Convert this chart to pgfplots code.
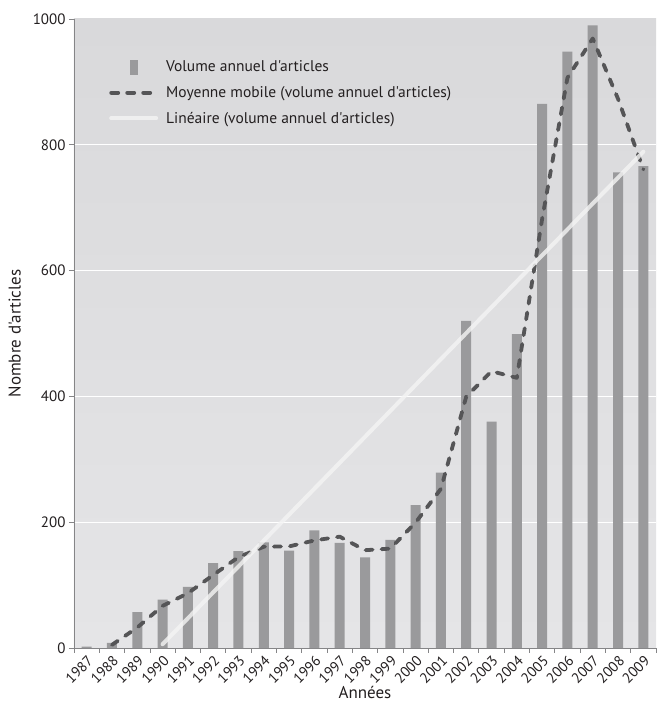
\documentclass[border=0pt]{standalone}
\usepackage{fontspec}
\setmainfont{PT Sans}[Ligatures=TeXOff]
\usepackage{pgfplots}
\pgfplotsset{compat=1.18}
\usetikzlibrary{calc}
\definecolor{barcol}{HTML}{9A9A9C}
\definecolor{dashcol}{HTML}{555557}
\definecolor{axcol}{HTML}{858587}
\definecolor{bgtop}{HTML}{D9D9DB}
\definecolor{bgbot}{HTML}{E5E5E7}
\definecolor{txt}{HTML}{231F20}
\definecolor{trend}{HTML}{F4F4F4}
\pgfplotsset{
  linelegend/.style={legend image code/.code={\draw[##1] (0pt,0pt) -- (45pt,0pt);}},
  barlegend/.style={legend image code/.code={\fill[barcol] (19pt,-7.5pt) rectangle (27pt,7.5pt);}}
}
\begin{document}
\begin{tikzpicture}
\begin{axis}[
  scale only axis, width=582pt, height=629pt,
  xmin=-0.5, xmax=22.5, ymin=0, ymax=1000,
  axis lines=left, axis line style={-, draw=axcol, line width=0.8pt},
  axis background/.style={top color=bgtop, bottom color=bgbot, draw=none},
  font=\fontsize{15}{17}\selectfont, text=txt,
  /pgf/number format/assume math mode=true,
  /pgf/number format/1000 sep={},
  ytick={200,400,...,800}, extra y ticks={0,1000}, extra y tick style={grid=none},
  ymajorgrids, grid style={white, line width=1.2pt},
  xtick={0,...,22},
  xticklabels={1987,1988,1989,1990,1991,1992,1993,1994,1995,1996,1997,1998,1999,2000,2001,2002,2003,2004,2005,2006,2007,2008,2009},
  minor xtick={-0.5,0.5,...,22.5},
  major x tick style={draw=none},
  tick align=outside, major tick length=5pt, minor tick length=5pt,
  tick style={draw=axcol, line width=0.8pt},
  xticklabel style={rotate=45, anchor=north east, inner sep=1pt, font=\fontsize{14.5}{16}\selectfont},
  yticklabel style={font=\fontsize{15}{17}\selectfont},
  xlabel={Années}, ylabel={Nombre d'articles},
  xlabel style={font=\fontsize{17}{19}\selectfont, yshift=3pt},
  ylabel style={font=\fontsize{17}{19}\selectfont},
  legend style={draw=none, fill=none, at={(0.055,0.940)}, anchor=north west,
    font=\fontsize{15.5}{17}\selectfont, row sep=9pt, cells={anchor=west},
    /tikz/every odd column/.append style={column sep=6pt}},
  legend cell align=left,
]
\addplot[ybar, bar width=10pt, fill=barcol, draw=none, barlegend]
  coordinates {(0,2)(1,8)(2,57)(3,77)(4,97)(5,135)(6,154)(7,168)(8,155)(9,187)(10,167)(11,144)(12,172)(13,227)(14,279)(15,520)(16,360)(17,499)(18,865)(19,948)(20,990)(21,756)(22,766)};
\addlegendentry{Volume annuel d'articles}
\addplot[dashcol, line width=3.8pt, line cap=round, line join=round, dash pattern=on 7pt off 9pt, linelegend]
  coordinates {(1,5)(2,32.5)(3,67)(4,87)(5,116)(6,144.5)(7,161)(8,161.5)(9,171)(10,177)(11,155.5)(12,158)(13,199.5)(14,253)(15,399.5)(16,440)(17,429.5)(18,682)(19,906.5)(20,969)(21,873)(22,761)};
\addlegendentry{Moyenne mobile (volume annuel d'articles)}
\addplot[trend, opacity=0.8, line width=4pt, line cap=round, linelegend]
  coordinates {(3,6)(22,789)};
\addlegendentry{Linéaire (volume annuel d'articles)}
\end{axis}
\pgfresetboundingbox
\path ($(current axis.south west)+(-74pt,-61pt)$) rectangle ($(current axis.north east)+(0pt,19pt)$);
\end{tikzpicture}
\end{document}
